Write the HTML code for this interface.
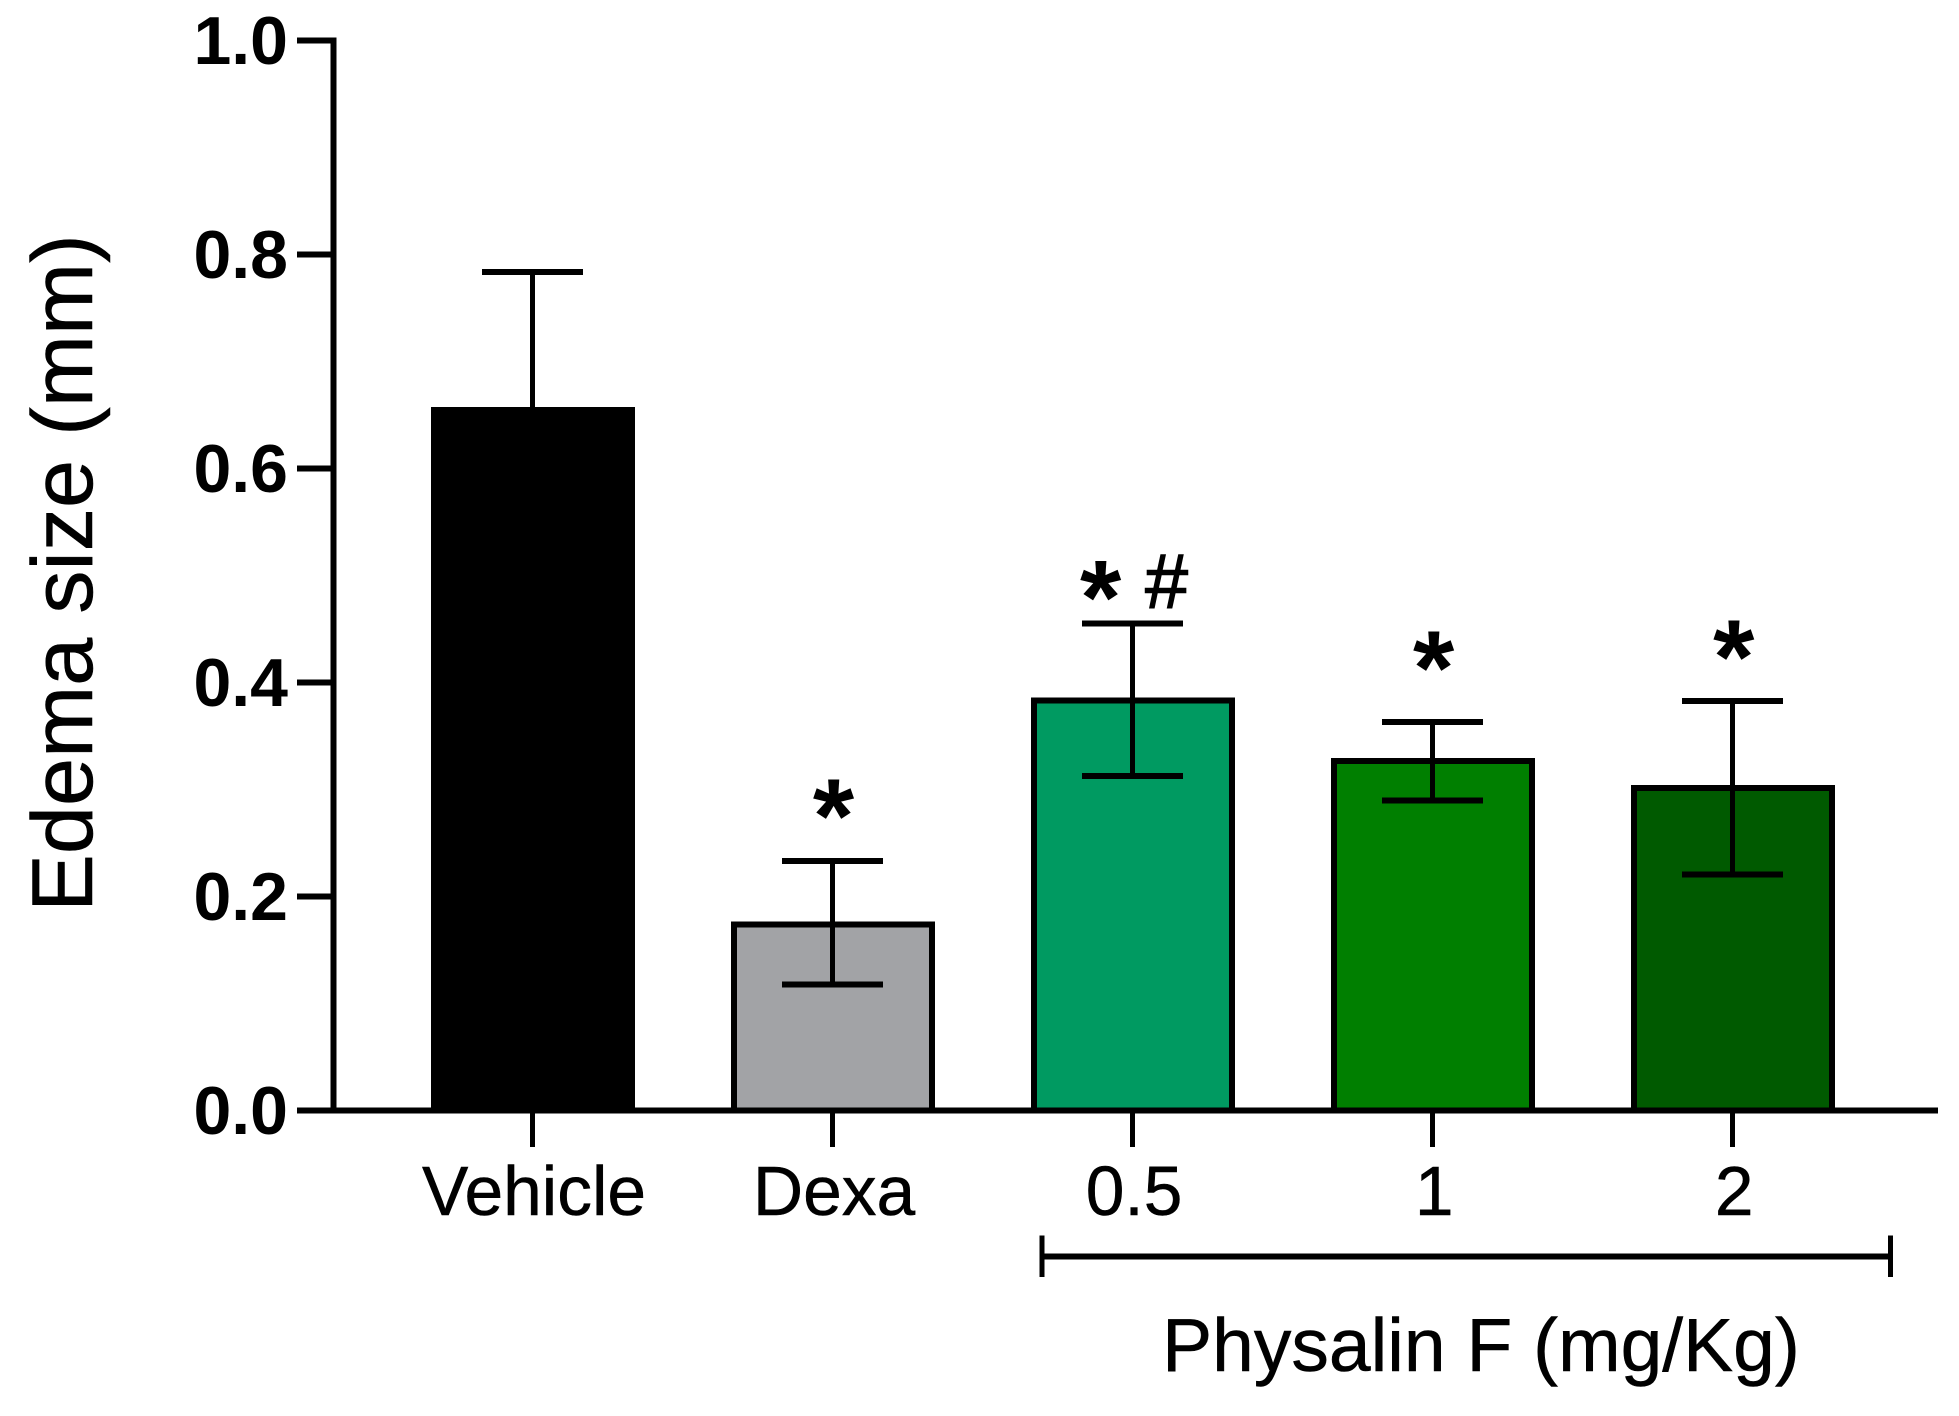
<!DOCTYPE html>
<html lang="en">
<head>
<meta charset="utf-8">
<title>Edema size chart</title>
<style>
html,body{margin:0;padding:0;background:#fff;width:1959px;height:1416px;overflow:hidden}
svg{display:block}
text{font-family:"Liberation Sans",Arial,sans-serif;fill:#000}
line,rect{shape-rendering:crispEdges}
</style>
</head>
<body>
<svg id="chart" width="1959" height="1416" viewBox="0 0 1959 1416" xmlns="http://www.w3.org/2000/svg"></svg>
<script>
var categories = ['Vehicle', 'Dexa', '0.5', '1', '2'];
var means = [0.6547, 0.174, 0.3833, 0.3266, 0.3014];
var upperErrors = [0.7836, 0.233, 0.455, 0.363, 0.3827];
var lowerErrors = [0.6547, 0.1176, 0.3126, 0.2898, 0.2206];
var barColors = ['#000000', '#a2a3a6', '#009a61', '#007f00', '#005a00'];
var yTicks = [0, 0.2, 0.4, 0.6, 0.8, 1.0];
var yTickLabels = ['0.0', '0.2', '0.4', '0.6', '0.8', '1.0'];
var annotationLabels = ['', '*', '*', '*', '*'];
var annotationHeights = [0, 0.292, 0.4963, 0.4304, 0.4407];

var svg = document.getElementById('chart');
var NS = 'http://www.w3.org/2000/svg';
var INK = '#000';

function yScale(v) { return 1110.5 - v * 1070; }
function xScale(i) { return 532.5 + i * 300.05; }

function make(tag, attrs, text) {
  var el = document.createElementNS(NS, tag);
  for (var k in attrs) el.setAttribute(k, attrs[k]);
  if (text !== undefined) el.textContent = text;
  svg.appendChild(el);
  return el;
}
function line(x1, y1, x2, y2, w) {
  return make('line', {x1: x1, y1: y1, x2: x2, y2: y2, stroke: INK, 'stroke-width': w});
}

var BAR_W = 198, CAP_W = 101;

categories.forEach(function (name, i) {
  var cx = xScale(i);
  var top = yScale(means[i]);
  var bar = make('rect', {x: cx - 98.5, y: top, width: BAR_W, height: yScale(0) - top, fill: barColors[i], stroke: INK, 'stroke-width': 6});
  
  

  var stem = line(cx, yScale(upperErrors[i]), cx, yScale(lowerErrors[i]), 5);
  
  

  var capHi = line(cx - CAP_W / 2, yScale(upperErrors[i]), cx + CAP_W / 2, yScale(upperErrors[i]), 6);
  
  

  if (lowerErrors[i] !== means[i]) {
    var capLo = line(cx - CAP_W / 2, yScale(lowerErrors[i]), cx + CAP_W / 2, yScale(lowerErrors[i]), 6);
    
    
  }

  var tick = line(cx, yScale(0), cx, 1147, 5);
  
  

  var label = make('text', {x: cx + 1.5, y: 1215, 'text-anchor': 'middle', 'font-size': 69.5, stroke: '#000', 'stroke-width': 0.5}, name);
  
  

  if (annotationLabels[i]) {
    var star = make('text', {x: cx + (i === 2 ? -32 : 1), y: yScale(annotationHeights[i]) + 54.4, 'text-anchor': 'middle', 'font-size': 106, 'font-weight': 'bold'}, annotationLabels[i]);
    
    
  }
});

var hash = make('text', {x: 1166.5, y: 608, 'text-anchor': 'middle', 'font-size': 77, stroke: '#000', 'stroke-width': 1.4}, '#');



var yAxis = line(333.5, yScale(1) - 3, 333.5, yScale(0), 6);



var xAxis = line(297, yScale(0), 1938, yScale(0), 6);



yTicks.forEach(function (v, i) {
  var t = line(297, yScale(v), 336, yScale(v), 6);
  
  
  var l = make('text', {x: 288, y: yScale(v) + 23.5, 'text-anchor': 'end', 'font-size': 68, 'font-weight': 'bold'}, yTickLabels[i]);
  
  
});

var yTitle = make('text', {x: 0, y: 0, 'text-anchor': 'middle', 'font-size': 86.5, stroke: '#000', 'stroke-width': 0.5, transform: 'translate(92 573) rotate(-90)'}, 'Edema size (mm)');



var groupLine = line(1042, 1256.5, 1890.5, 1256.5, 6);



var groupLeft = line(1042, 1235.5, 1042, 1277, 5);



var groupRight = line(1890.5, 1235.5, 1890.5, 1277, 5);



var groupLabel = make('text', {x: 1481, y: 1371, 'text-anchor': 'middle', 'font-size': 75, stroke: '#000', 'stroke-width': 0.5}, 'Physalin F (mg/Kg)');


</script>
</body>
</html>
